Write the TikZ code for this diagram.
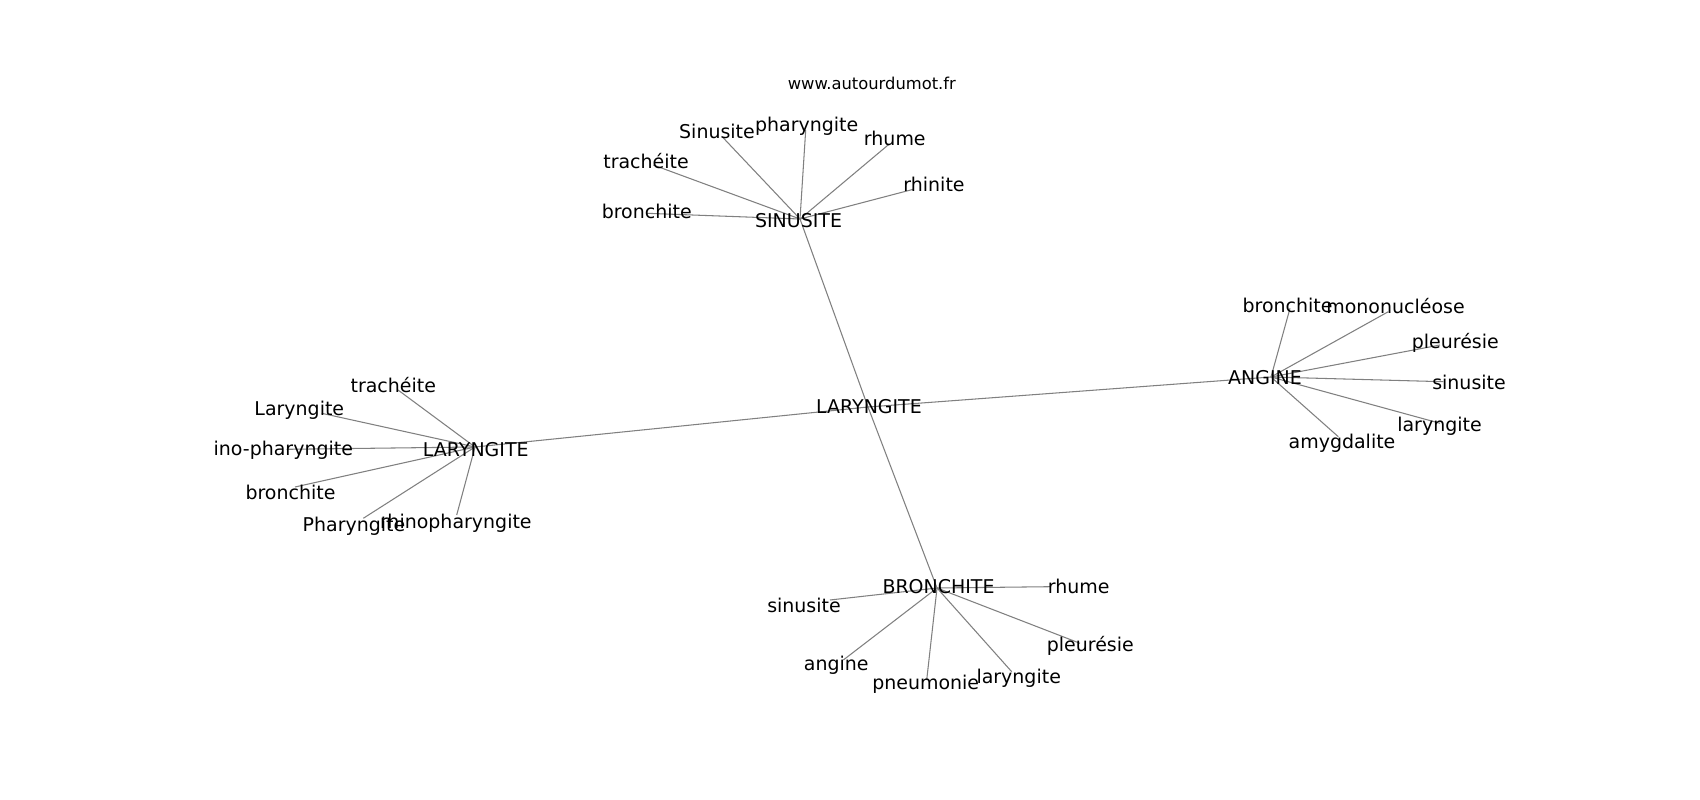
\documentclass[tikz,border=0pt]{standalone}
\usepackage{fontspec}
\setmainfont{DejaVu Sans}
\begin{document}
\begin{tikzpicture}[x=0.02cm,y=-0.02cm,
  edge/.style={draw=black!50,line width=0.6pt},
  lbl/.style={anchor=base,inner sep=0pt,yshift=-0.8pt,font=\fontsize{10.8}{13}\selectfont},
  ttl/.style={anchor=base,inner sep=0pt,yshift=-0.5pt,font=\fontsize{9.3}{11}\selectfont}]
\useasboundingbox[fill=white] (0,0) rectangle (1700,800);
% hubs
\coordinate (c) at (868,407);
\coordinate (sh) at (800,219);
\coordinate (lh) at (475,447);
\coordinate (ah) at (1271,377);
\coordinate (bh) at (937,588);
% SINUSITE leaves
\coordinate (s1) at (722.7,137.3);
\coordinate (s2) at (805.7,130);
\coordinate (s3) at (889.3,144);
\coordinate (s4) at (913.3,189.3);
\coordinate (s5) at (653.3,165);
\coordinate (s6) at (646.7,213.3);
% left LARYNGITE leaves
\coordinate (l1) at (398,390);
\coordinate (l2) at (321.7,413.3);
\coordinate (l3) at (286.7,449.3);
\coordinate (l4) at (295,487);
\coordinate (l5) at (363.3,518.3);
\coordinate (l6) at (456.7,515);
% ANGINE leaves
\coordinate (a1) at (1290,308.3);
\coordinate (a2) at (1388.3,311.7);
\coordinate (a3) at (1440,345);
\coordinate (a4) at (1443.3,381.7);
\coordinate (a5) at (1440,423.3);
\coordinate (a6) at (1338.3,436.7);
% BRONCHITE leaves
\coordinate (b1) at (1050,586.7);
\coordinate (b2) at (830,600);
\coordinate (b3) at (1080,643.3);
\coordinate (b4) at (843.3,660);
\coordinate (b5) at (926.7,680);
\coordinate (b6) at (1011.7,671.7);
% edges
\foreach \h in {sh,lh,ah,bh} \draw[edge] (c) -- (\h);
\foreach \n in {s1,s2,s3,s4,s5,s6} \draw[edge] (sh) -- (\n);
\foreach \n in {l1,l2,l3,l4,l5,l6} \draw[edge] (lh) -- (\n);
\foreach \n in {a1,a2,a3,a4,a5,a6} \draw[edge] (ah) -- (\n);
\foreach \n in {b1,b2,b3,b4,b5,b6} \draw[edge] (bh) -- (\n);
% labels
\node[ttl] (title) at (871.8,88.3) {www.autourdumot.fr};
\node[lbl] (ct) at (869,412) {LARYNGITE};
\node[lbl] (sht) at (798.5,225.7) {SINUSITE};
\node[lbl] (lht) at (475.8,455) {LARYNGITE};
\node[lbl] (aht) at (1265,383.3) {ANGINE};
\node[lbl] (bht) at (938.5,591.7) {BRONCHITE};
\node[lbl] (s1t) at (717,137.3) {Sinusite};
\node[lbl] (s2t) at (806.7,130) {pharyngite};
\node[lbl] (s3t) at (894.8,144) {rhume};
\node[lbl] (s4t) at (934,190) {rhinite};
\node[lbl] (s5t) at (646,167.3) {trachéite};
\node[lbl] (s6t) at (646.7,217.3) {bronchite};
\node[lbl] (l1t) at (393.3,391) {trachéite};
\node[lbl] (l2t) at (299.3,414.3) {Laryngite};
\node[lbl,anchor=base east] (l3t) at (353.3,454.3) {ino-pharyngite};
\node[lbl] (l4t) at (290.5,497.7) {bronchite};
\node[lbl] (l5t) at (354,530) {Pharyngite};
\node[lbl] (l6t) at (455.8,526.7) {rhinopharyngite};
\node[lbl] (a1t) at (1287.5,310.7) {bronchite};
\node[lbl] (a2t) at (1395.5,312.3) {mononucléose};
\node[lbl] (a3t) at (1455.3,347.3) {pleurésie};
\node[lbl] (a4t) at (1469,388.3) {sinusite};
\node[lbl] (a5t) at (1439.5,430) {laryngite};
\node[lbl] (a6t) at (1342,447.3) {amygdalite};
\node[lbl] (b1t) at (1078.7,591.7) {rhume};
\node[lbl] (b2t) at (804,610.7) {sinusite};
\node[lbl] (b3t) at (1090.3,650) {pleurésie};
\node[lbl] (b4t) at (836.3,669.3) {angine};
\node[lbl] (b5t) at (925.7,688) {pneumonie};
\node[lbl] (b6t) at (1018.7,681.7) {laryngite};
\end{tikzpicture}
\end{document}
